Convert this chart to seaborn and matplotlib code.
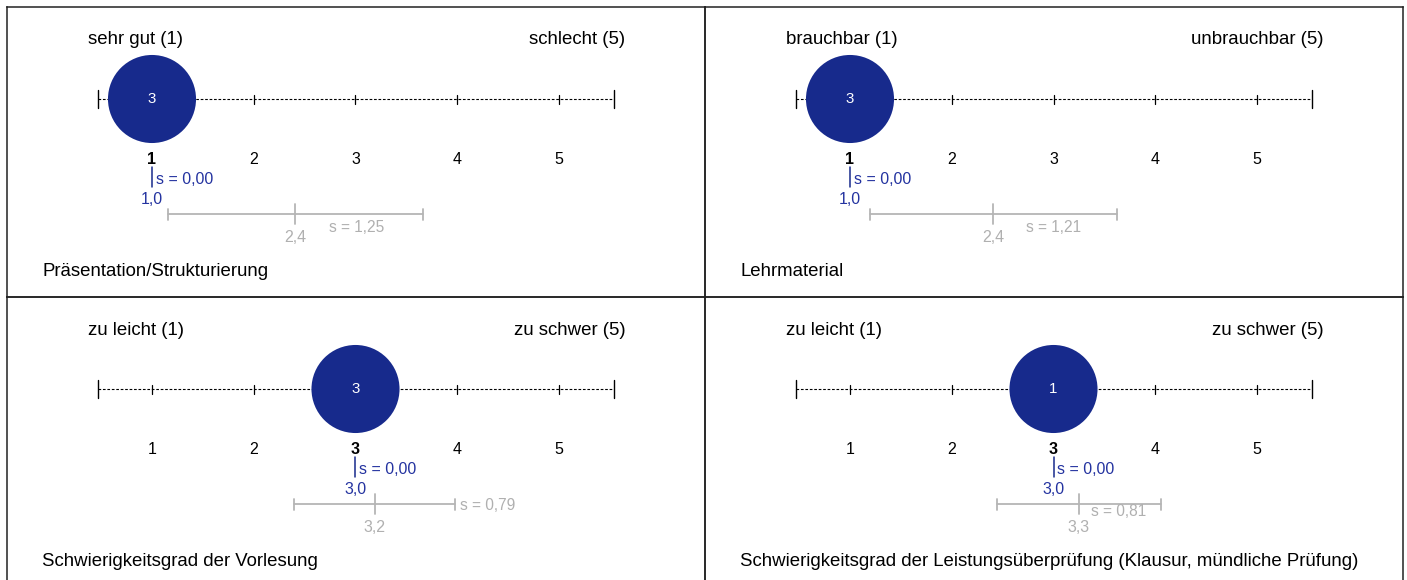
import numpy as np
import pandas as pd
import matplotlib
matplotlib.use("Agg")
import matplotlib.pyplot as plt
import seaborn as sns

# ---------------------------------------------------------
# Data
# ---------------------------------------------------------
titles = ["Präsentation/Strukturierung",
          "Lehrmaterial",
          "Schwierigkeitsgrad der Vorlesung",
          "Schwierigkeitsgrad der Leistungsüberprüfung (Klausur, mündliche Prüfung)"]
left_anchor = ["sehr gut (1)", "brauchbar (1)", "zu leicht (1)", "zu leicht (1)"]
right_anchor = ["schlecht (5)", "unbrauchbar (5)", "zu schwer (5)", "zu schwer (5)"]
scale_values = [1, 2, 3, 4, 5]
mode_value = [1, 1, 3, 3]          # position of the big circle
mode_count = [3, 3, 3, 1]          # number printed in the circle
course_mean = [1.0, 1.0, 3.0, 3.0]
course_sd = [0.00, 0.00, 0.00, 0.00]
compare_mean = [2.41, 2.41, 3.19, 3.25]
compare_sd = [1.25, 1.21, 0.79, 0.81]

# where the grey "s = ..." label sits (dx from mean in scale units, y in px)
sd_label_dx = [0.33, 0.32, 0.835, 0.12]
sd_label_y = [221, 220, 208, 214]

BLUE = "#172a8c"
BLUE_TXT = "#2433a0"
GREY = "#b5b5b5"
GREY_TXT = "#b0b0b0"


def fmt(v, d):
    return f"{v + 1e-9:.{d}f}".replace(".", ",")


sns.set_theme(style="white")
plt.rcParams["font.family"] = ["Liberation Sans", "DejaVu Sans"]

W, H = 1407, 580
fig = plt.figure(figsize=(W / 100, H / 100), dpi=100)

# cell geometry in pixels
cells = [(7, 7), (705, 7), (7, 297), (705, 297)]
cw, ch = 698, 290
U = 101.75                     # pixels per scale unit
x0 = 1 - 145 / U               # data x at left edge of a cell
x1 = x0 + cw / U

for i, (cl, ct) in enumerate(cells):
    ax = fig.add_axes([cl / W, 1 - (ct + ch) / H, cw / W, ch / H])
    ax.set_xlim(x0, x1)
    ax.set_ylim(ch, 0)
    ax.set_xticks([])
    ax.set_yticks([])
    ax.patch.set_alpha(0)
    for sp in ax.spines.values():
        sp.set_visible(True)
        sp.set_color("#222222")
        sp.set_linewidth(1.1)

    # anchors
    ax.text(0.37, 33, left_anchor[i], ha="left", va="center", fontsize=13.4, color="black")
    ax.text(5.65, 33, right_anchor[i], ha="right", va="center", fontsize=13.4, color="black")

    # dotted scale line with ticks
    ax.plot([0.47, 5.54], [92, 92], color="black", lw=0.8, ls=(0, (2.4, 1.6)))
    for e in [0.47, 5.54]:
        ax.plot([e, e], [83, 101], color="black", lw=1.0)
    for v in scale_values:
        ax.plot([v, v], [87.5, 96.5], color="black", lw=0.9)

    # frequency circle
    circ = pd.DataFrame({"x": [mode_value[i]], "y": [92]})
    sns.scatterplot(data=circ, x="x", y="y", s=4020, color=BLUE, edgecolor="none",
                    ax=ax, legend=False, zorder=3)
    ax.text(mode_value[i], 92, str(mode_count[i]), ha="center", va="center",
            fontsize=10.8, color="white", zorder=4)
    ax.set_xlabel("")
    ax.set_ylabel("")

    # scale numbers
    for v in scale_values:
        bold = v == round(course_mean[i])
        ax.text(v, 152.5, str(v), ha="center", va="center", fontsize=11.5,
                fontweight="bold" if bold else "normal", color="black")

    # course mean / sd (blue)
    m, s = course_mean[i], course_sd[i]
    ax.plot([m - s, m + s], [170, 170], color=BLUE, lw=1.1)
    ax.plot([m, m], [160, 180], color=BLUE, lw=1.1)
    ax.text(m + s + 0.035, 172, "s = " + fmt(s, 2), ha="left", va="center",
            fontsize=11.5, color=BLUE_TXT)
    ax.text(m, 192, fmt(m, 1), ha="center", va="center", fontsize=11.5, color=BLUE_TXT)

    # comparison mean / sd (grey)
    m, s = compare_mean[i], compare_sd[i]
    ax.plot([m - s, m + s], [207, 207], color=GREY, lw=1.3)
    ax.plot([m, m], [197, 217], color=GREY, lw=1.3)
    for e in [m - s, m + s]:
        ax.plot([e, e], [201.5, 212.5], color=GREY, lw=1.3)
    ax.text(m, 230, fmt(m, 1), ha="center", va="center", fontsize=11.5, color=GREY_TXT)
    ax.text(m + sd_label_dx[i], sd_label_y[i], "s = " + fmt(s, 2), ha="left", va="center",
            fontsize=11.2, color=GREY_TXT)

    # title
    ax.text(-0.08, 264, titles[i], ha="left", va="center", fontsize=13.4, color="black")

fig.savefig("out.png", dpi=100)
